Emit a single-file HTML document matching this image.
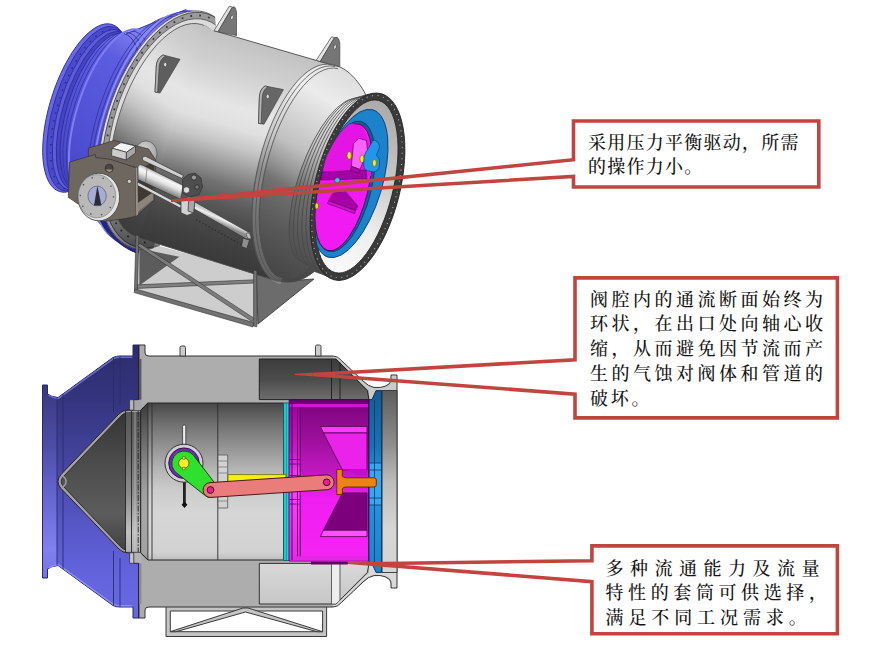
<!DOCTYPE html>
<html lang="zh-CN">
<head>
<meta charset="utf-8">
<title>轴流式调节阀</title>
<style>
html,body{margin:0;padding:0;background:#fff;}
body{width:880px;height:650px;overflow:hidden;position:relative;font-family:"Liberation Serif","Noto Serif CJK SC",serif;}
svg{position:absolute;left:0;top:0;display:block;}
.t{font-family:"Liberation Serif","Noto Serif CJK SC",serif;font-size:18px;fill:#141414;font-weight:500;}
</style>
</head>
<body>
<svg width="880" height="650" viewBox="0 0 880 650">
<defs>

<linearGradient id="bBlue" x1="0" y1="345" x2="0" y2="618" gradientUnits="userSpaceOnUse">
<stop offset="0" stop-color="#2c2c6c"/><stop offset="0.2" stop-color="#34347e"/><stop offset="0.45" stop-color="#4646a2"/><stop offset="0.65" stop-color="#5656c6"/><stop offset="0.85" stop-color="#6464de"/><stop offset="1" stop-color="#6868e0"/></linearGradient>
<linearGradient id="bBlueL" x1="0" y1="385" x2="0" y2="578" gradientUnits="userSpaceOnUse">
<stop offset="0" stop-color="#38387e"/><stop offset="0.3" stop-color="#4c4ca6"/><stop offset="0.6" stop-color="#6868d4"/><stop offset="0.85" stop-color="#8080f0"/><stop offset="1" stop-color="#7474e4"/></linearGradient>
<linearGradient id="bCone" x1="0" y1="403" x2="0" y2="560" gradientUnits="userSpaceOnUse">
<stop offset="0" stop-color="#303030"/><stop offset="0.35" stop-color="#4a4a4a"/><stop offset="0.7" stop-color="#5c5c5c"/><stop offset="1" stop-color="#3c3c3c"/></linearGradient>
<linearGradient id="bCyl" x1="0" y1="403" x2="0" y2="560" gradientUnits="userSpaceOnUse">
<stop offset="0" stop-color="#464646"/><stop offset="0.07" stop-color="#5e5e5e"/><stop offset="0.15" stop-color="#747474"/><stop offset="0.29" stop-color="#969696"/><stop offset="0.42" stop-color="#b4b4b4"/><stop offset="0.55" stop-color="#cbcbcb"/><stop offset="0.7" stop-color="#d6d6d6"/><stop offset="0.95" stop-color="#d2d2d2"/><stop offset="1" stop-color="#bebebe"/></linearGradient>
<linearGradient id="bCav" x1="0" y1="359" x2="0" y2="400" gradientUnits="userSpaceOnUse">
<stop offset="0" stop-color="#3c3c3c"/><stop offset="0.5" stop-color="#4c4c4c"/><stop offset="1" stop-color="#6e6e6e"/></linearGradient>
<linearGradient id="bCav2" x1="0" y1="565" x2="0" y2="605" gradientUnits="userSpaceOnUse">
<stop offset="0" stop-color="#d8d8d8"/><stop offset="1" stop-color="#c6c6c6"/></linearGradient>
<linearGradient id="bMag" x1="0" y1="403" x2="0" y2="561" gradientUnits="userSpaceOnUse">
<stop offset="0" stop-color="#7e047e"/><stop offset="0.25" stop-color="#a010a0"/><stop offset="0.45" stop-color="#c418c4"/><stop offset="0.6" stop-color="#f01ef0"/><stop offset="1" stop-color="#f424f4"/></linearGradient>
<linearGradient id="bMagW" x1="0" y1="403" x2="0" y2="561" gradientUnits="userSpaceOnUse">
<stop offset="0" stop-color="#a000a0"/><stop offset="0.3" stop-color="#c818c8"/><stop offset="0.5" stop-color="#ff40ff"/><stop offset="1" stop-color="#e828e8"/></linearGradient>
<linearGradient id="bSeat" x1="0" y1="390" x2="0" y2="574" gradientUnits="userSpaceOnUse">
<stop offset="0" stop-color="#155a94"/><stop offset="0.3" stop-color="#1a70b4"/><stop offset="0.5" stop-color="#2496e4"/><stop offset="1" stop-color="#1c82cc"/></linearGradient>
<linearGradient id="bFl" x1="0" y1="388" x2="0" y2="576" gradientUnits="userSpaceOnUse">
<stop offset="0" stop-color="#5a5a5a"/><stop offset="0.3" stop-color="#8e8e8e"/><stop offset="0.5" stop-color="#bcbcbc"/><stop offset="0.75" stop-color="#d6d6d6"/><stop offset="1" stop-color="#d4d4d4"/></linearGradient>

<linearGradient id="tBody" x1="214" y1="30.7" x2="151" y2="241.2" gradientUnits="userSpaceOnUse">
<stop offset="0" stop-color="#c2c2c2"/><stop offset="0.063" stop-color="#c9c9c9"/><stop offset="0.133" stop-color="#cfcfcf"/><stop offset="0.22" stop-color="#dadada"/><stop offset="0.307" stop-color="#e6e6e6"/><stop offset="0.395" stop-color="#e0e0e0"/><stop offset="0.48" stop-color="#c6c6c6"/><stop offset="0.57" stop-color="#9c9c9c"/><stop offset="0.656" stop-color="#727272"/><stop offset="0.743" stop-color="#5a5a5a"/><stop offset="0.83" stop-color="#4a4a4a"/><stop offset="0.918" stop-color="#404040"/><stop offset="1" stop-color="#3a3a3a"/></linearGradient>
<linearGradient id="tDome" x1="345" y1="70" x2="283" y2="280" gradientUnits="userSpaceOnUse">
<stop offset="0" stop-color="#dcdcdc"/><stop offset="0.16" stop-color="#ececec"/><stop offset="0.42" stop-color="#c0c0c0"/><stop offset="0.52" stop-color="#989898"/><stop offset="0.6" stop-color="#727272"/><stop offset="0.77" stop-color="#5a5a5a"/><stop offset="0.93" stop-color="#4a4a4a"/><stop offset="1" stop-color="#444"/></linearGradient>
<linearGradient id="tBlue" x1="150" y1="10" x2="90" y2="200" gradientUnits="userSpaceOnUse">
<stop offset="0" stop-color="#6c6ce6"/><stop offset="0.12" stop-color="#8080f0"/><stop offset="0.3" stop-color="#5c5ce0"/><stop offset="0.7" stop-color="#5050d4"/><stop offset="1" stop-color="#4444c0"/></linearGradient>
<linearGradient id="tBore" x1="385" y1="100" x2="345" y2="275" gradientUnits="userSpaceOnUse">
<stop offset="0" stop-color="#a8a8a8"/><stop offset="0.35" stop-color="#c4c4c4"/><stop offset="0.7" stop-color="#eeeeee"/><stop offset="1" stop-color="#fbfbfb"/></linearGradient>
<clipPath id="cBlue"><path d="M186,9.5 C175,13 165,17 147,25 L129,31 L124,33 L121,30 C117,27 110,25 103,25 C97,26 88,32 81,39 C76,45 72,51 69,57 C65,64 62,71 59,79 C56,86 53,94 51,101 C49,108 47,114 46,121 C44,130 42,140 41,152 C41,160 42,165 44.3,169.5 C46,174 48,178 50.8,182.5 C53,186 56,188.5 59.4,190 L68,193.2 L80,215 L100,222 L136,252 L180,200 L200,12 Z"/></clipPath>
<clipPath id="cHole"><ellipse cx="344.8" cy="186.4" rx="26.6" ry="67" transform="rotate(14 344.8 186.4)"/></clipPath>
<clipPath id="cBore"><ellipse cx="356.8" cy="186.5" rx="36.2" ry="88.8" transform="rotate(14.1 356.8 186.5)"/></clipPath>

<linearGradient id="tCyl" x1="163" y1="174" x2="157" y2="187.5" gradientUnits="userSpaceOnUse">
<stop offset="0" stop-color="#b0b0b0"/><stop offset="0.3" stop-color="#f6f6f6"/><stop offset="0.55" stop-color="#e4e4e4"/><stop offset="1" stop-color="#8c8c8c"/></linearGradient>
<linearGradient id="tRod" x1="222" y1="216.5" x2="219" y2="223.5" gradientUnits="userSpaceOnUse">
<stop offset="0" stop-color="#c8c8c8"/><stop offset="0.35" stop-color="#f0f0f0"/><stop offset="1" stop-color="#8a8a8a"/></linearGradient>
<radialGradient id="tBoss" cx="0.4" cy="0.35" r="0.8"><stop offset="0" stop-color="#d4d4d4"/><stop offset="1" stop-color="#9a9a9a"/></radialGradient>

<linearGradient id="bBand" x1="0" y1="410" x2="0" y2="553" gradientUnits="userSpaceOnUse">
<stop offset="0" stop-color="#545454"/><stop offset="0.3" stop-color="#6c6c6c"/><stop offset="0.6" stop-color="#8e8e8e"/><stop offset="0.85" stop-color="#c0c0c0"/><stop offset="1" stop-color="#b0b0b0"/></linearGradient>
<clipPath id="cRing"><path d="M0,0 H214 L216,32 L150,260 H0 Z"/></clipPath>
<clipPath id="cRingO"><ellipse cx="169" cy="130.2" rx="63.7" ry="123.4" transform="rotate(17.2 169 130.2)"/></clipPath>
<linearGradient id="tShade" x1="0" y1="195" x2="0" y2="245" gradientUnits="userSpaceOnUse"><stop offset="0" stop-color="#000" stop-opacity="0"/><stop offset="1" stop-color="#000" stop-opacity="0.5"/></linearGradient>
<!--DEFS-->
</defs>
<rect width="880" height="650" fill="#fff"/>
<g id="top" stroke-linejoin="round">
<!-- base frame back -->
<path d="M137.4,240 L255,272 L300,284 L257,325.3 L135.3,290.6 Z" fill="#cdcdcd"/>
<path d="M139.4,248.6 L139.4,285.5 L179.3,256.8 Z" fill="#5c5c5c"/>
<path d="M256,271 L300,280 L314,279 L258,324 Z" fill="#6c6c6c" stroke="#333" stroke-width="0.8"/>
<!-- blue cone + inlet flange -->
<ellipse cx="85.8" cy="108" rx="35.8" ry="87.6" transform="rotate(17.5 85.8 108)" fill="#6a6ae6" stroke="#3232a4" stroke-width="0.9"/>
<ellipse cx="88.5" cy="108.8" rx="34.6" ry="85.6" transform="rotate(17.5 88.5 108.8)" fill="#4a4ace" stroke="#2c2c94" stroke-width="0.8"/>
<ellipse cx="90.5" cy="109.4" rx="32.6" ry="83.4" transform="rotate(17.5 90.5 109.4)" fill="none" stroke="#2c2c8c" stroke-width="1.5" stroke-dasharray="1.5 6.5"/>
<ellipse cx="93" cy="110" rx="33.6" ry="83.6" transform="rotate(17.5 93 110)" fill="#5c5cdc" stroke="#2c2c94" stroke-width="0.8"/>
<ellipse cx="96.5" cy="111" rx="33.2" ry="82.6" transform="rotate(17.5 96.5 111)" fill="#4444c4" stroke="#2c2c94" stroke-width="0.8"/>
<path d="M124.7,33.8 L186,9.5 L200,12 L180,200 L125.1,246.5 L75.3,190.2 Z" fill="url(#tBlue)"/>
<ellipse cx="100" cy="112" rx="33" ry="82" transform="rotate(17.5 100 112)" fill="url(#tBlue)" stroke="#2c2c94" stroke-width="0.8"/>
<path d="M126,34 L186,9.5" stroke="#3a3aa8" stroke-width="0.9" fill="none"/>
<g fill="none">
<ellipse cx="104" cy="113" rx="34" ry="84" transform="rotate(17.5 104 113)" stroke="#3434a4" stroke-width="0.8"/>
<ellipse cx="109" cy="114.5" rx="35.5" ry="87" transform="rotate(17.5 109 114.5)" stroke="#3434a4" stroke-width="0.8"/>
<ellipse cx="113" cy="115.5" rx="36.5" ry="89.5" transform="rotate(17.5 113 115.5)" stroke="#7e7ef2" stroke-width="2"/>
<ellipse cx="143" cy="124" rx="46.5" ry="111.5" transform="rotate(17.3 143 124)" stroke="#3434a4" stroke-width="0.8"/>
<ellipse cx="148" cy="125.3" rx="48" ry="115" transform="rotate(17.3 148 125.3)" stroke="#3434a4" stroke-width="0.8"/>
<ellipse cx="152" cy="126.5" rx="49.5" ry="118" transform="rotate(17.3 152 126.5)" stroke="#8a8af4" stroke-width="1.8"/>
<ellipse cx="156" cy="127.5" rx="50.6" ry="120.5" transform="rotate(17.3 156 127.5)" stroke="#3434a4" stroke-width="0.8"/>
</g>
<path d="M95,208 C100,226 116,246 138,253.5 L142,240 C126,232 113,222 106,205 Z" fill="#232388" stroke="#1a1a66" stroke-width="0.8"/>
<!-- bolted ring -->
<g clip-path="url(#cRing)">
<ellipse cx="169" cy="130.2" rx="63.7" ry="123.4" transform="rotate(17.2 169 130.2)" fill="#dcdce6" stroke="#555" stroke-width="0.8"/>
<ellipse cx="171.1" cy="130.1" rx="62.9" ry="121.8" transform="rotate(17.2 171.1 130.1)" fill="#9a9a9a" stroke="#444" stroke-width="0.8"/>
<ellipse cx="172" cy="129" rx="61" ry="117.4" transform="rotate(17.2 172 129)" fill="none" stroke="#3a3a3a" stroke-width="1.8" stroke-dasharray="1.8 7.2"/>
<ellipse cx="173" cy="127.6" rx="59.3" ry="112.5" transform="rotate(17.2 173 127.6)" fill="#dcdcdc" stroke="#555" stroke-width="0.8"/>
</g>
<g clip-path="url(#cRingO)"><rect x="90" y="195" width="70" height="65" fill="url(#tShade)"/></g>
<!-- body -->
<ellipse cx="168.9" cy="130.6" rx="52.1" ry="111" transform="rotate(17.2 168.9 130.6)" fill="url(#tBody)" stroke="#555" stroke-width="0.8"/>
<path d="M204,25 L214,30.7 L331.4,64.8 A46.9,111.5 13.9 0 1 277.8,281.2 L139.5,238 Z" fill="url(#tBody)"/>
<path d="M214,30.7 L331.4,64.8 M277.8,281.2 L139.5,238" fill="none" stroke="#4a4a4a" stroke-width="0.9"/>
<!-- dome -->
<path d="M332.3,65 L339,66.5 C347,70 353,76 357,81.2 C361,86 364,91 366,95.2 L376,95 L340,281 L314,271.7 C305,279 296,282.5 286,282 L276.9,281 Z" fill="url(#tDome)"/>
<ellipse cx="304.6" cy="173" rx="46.9" ry="111.5" transform="rotate(13.9 304.6 173)" fill="url(#tDome)"/>
<path d="M332.3,65 L339,66.5 C347,70 353,76 357,81.2 C361,86 364,91 366,95.2 M314,271.7 C305,279 296,282.5 286,282 L276.9,281" fill="none" stroke="#4a4a4a" stroke-width="0.9"/>
<path d="M335.2,66.6 A46.4,110 13.9 0 0 281.2,281.4" fill="none" stroke="#fff" stroke-opacity="0.17" stroke-width="6"/>
<g fill="none" stroke="#505050" stroke-width="0.8">
<path d="M332.3,65 A46.9,111.5 13.9 0 0 276.9,281"/>
<path d="M335.2,66.6 A46.4,110 13.9 0 0 281.2,281.4"/>
<path d="M338,68.6 A45.8,108.5 13.9 0 0 285.2,281.6"/>
</g>
<!-- neck -->
<path d="M358.4,99.3 L376,95 L340,281 L301.2,261.5 Z" fill="url(#tDome)"/>
<ellipse cx="329.8" cy="180.4" rx="31.1" ry="86.0" transform="rotate(19.4 329.8 180.4)" fill="url(#tDome)"/>
<g fill="none" stroke="#484848" stroke-width="0.8">
<path d="M358.4,99.3 A31.1,86.0 19.4 0 0 301.2,261.5"/>
<path d="M363.0,98.1 A33.4,88.0 18.3 0 0 307.7,265.2"/>
<path d="M367.6,97.0 A35.7,90.0 17.3 0 0 314.1,268.9"/>
<path d="M372.1,95.8 A37.9,92.0 16.2 0 0 320.7,272.5"/>
<path d="M376.5,94.7 A40.2,94.0 15.2 0 0 327.4,276.2"/>
</g>
<!-- outlet flange -->
<ellipse cx="357.5" cy="186.7" rx="42.5" ry="96" transform="rotate(14.1 357.5 186.7)" fill="#3a3a3a" stroke="#222" stroke-width="0.8"/>
<ellipse cx="357" cy="186.6" rx="40.3" ry="93.4" transform="rotate(14.1 357 186.6)" fill="none" stroke="#c4c4c4" stroke-width="1" stroke-dasharray="1 4.6"/>
<ellipse cx="356.8" cy="186.5" rx="36.2" ry="88.8" transform="rotate(14.1 356.8 186.5)" fill="url(#tBore)" stroke="#222" stroke-width="0.8"/>
<!-- blue seat ring -->
<g clip-path="url(#cBore)">
<ellipse cx="350.5" cy="183.5" rx="31.4" ry="77" transform="rotate(17 350.5 183.5)" fill="#1c82cc" stroke="#0a3a66" stroke-width="0.8"/>
<ellipse cx="344.8" cy="186.4" rx="26.6" ry="67" transform="rotate(14 344.8 186.4)" fill="#135c98" stroke="#0a3a66" stroke-width="0.8"/>
</g>
<g clip-path="url(#cHole)" stroke="#500050" stroke-width="0.6">
<ellipse cx="343.5" cy="187.4" rx="24.6" ry="65" transform="rotate(13.9 343.5 187.4)" fill="#f21af2" stroke-width="0.8"/>
<path d="M330,140 L345,122 L362,126 L372,150 L371,176 L322,174 Z" fill="#e414e4" stroke="none"/>
<!-- horizontal rib -->
<path d="M322,172 L366,170 L367,178.5 L321,180 Z" fill="#a400a4"/>
<!-- gusset -->
<path d="M333,193.2 L344.9,191 L357.8,206 L355.6,210.5 L328.7,200.8 Z" fill="#a600a6"/>
<path d="M328.7,200.8 L355.6,210.5 L354.5,213.5 L327.5,203.5 Z" fill="#d010d0"/>
<!-- raised ear -->
<path d="M353.5,143.7 L358.9,138.3 L366.4,140.5 L367.5,150 L360,169.5 L351.3,166.3 Z" fill="#fa60fa"/>
<path d="M351.3,166.3 L360,169.5 L359,173 L350.5,170 Z" fill="#b000b0"/>
<!-- blue link -->

<ellipse cx="349.2" cy="155.5" rx="2.2" ry="3.8" fill="#f4ec20" stroke="#5a5a00"/>
<ellipse cx="362" cy="158.8" rx="2.2" ry="3.8" fill="#f4ec20" stroke="#5a5a00"/>
<circle cx="337.3" cy="180.3" r="2.6" fill="#22d4e4" stroke="#0a5a66"/>
<ellipse cx="316.8" cy="206" rx="1.8" ry="3" fill="#e8e020" stroke="#5a5a00"/>
</g>
<g clip-path="url(#cBore)" stroke-width="0.6">
<path d="M372.9,140.5 Q375,139.4 377.2,141.5 Q380.2,144.5 379.3,148 L376.4,155.5 Q379.6,157.5 379.6,161 L379.3,166.3 Q378.5,171.2 373.9,171.9 L367.5,170.8 Q363.6,169.5 363.5,165.5 L364.2,156.6 Q365.5,151.5 368.6,148 Z" fill="#2196ea" stroke="#0a3a66"/>
<ellipse cx="374.4" cy="163" rx="2" ry="3.4" fill="#f4ec20" stroke="#5a5a00" stroke-width="0.6"/>
</g>
<!-- lugs -->
<g stroke="#444" stroke-width="0.7">
<path d="M214,30.7 L229.3,6.1 L232.4,7.2 L218,31.8 Z" fill="#e2e2e2"/>
<path d="M218,31.8 L232.4,7.2 Q234.5,6 235.5,8.2 L236.5,12 L236.5,35.6 Z" fill="#767676"/>
<ellipse cx="232" cy="17.4" rx="1.3" ry="2.2" fill="#e8e8e8" transform="rotate(15 232 17.4)"/>
<path d="M316.2,60.3 L331.6,36.8 L334.5,37.6 L320.2,61.6 Z" fill="#e2e2e2"/>
<path d="M320.2,61.6 L334.5,37.6 Q337.5,36.4 338.7,38.9 L339.8,43 L339.8,66.5 Z" fill="#767676"/>
<ellipse cx="335" cy="47" rx="1.3" ry="2.2" fill="#e8e8e8" transform="rotate(15 335 47)"/>
<path d="M163,55 L180,59.3 L160,93 L155,92 L156.3,66 Q157,58 163,55 Z" fill="#5e5e5e"/>
<path d="M163,55 Q157,58 156.3,66 L155,92 L157.6,92.5 L159.2,66 Q160,59 166,55.8 Z" fill="#b4b4b4"/>
<ellipse cx="165.2" cy="64.6" rx="1.6" ry="2.3" fill="#ddd"/>
<path d="M265,86 L283.4,89.6 L264,124.2 L258.5,123.3 L259.4,97 Q260,89 265,86 Z" fill="#666"/>
<path d="M265,86 Q260,89 259.4,97 L258.5,123.3 L261.2,123.8 L262.2,97 Q263,90 268,86.6 Z" fill="#b4b4b4"/>
<ellipse cx="267.7" cy="96.5" rx="1.6" ry="2.3" fill="#ddd"/>
</g>
<!-- actuator -->
<g stroke="#333" stroke-width="0.7">
<ellipse cx="146" cy="153.5" rx="11" ry="12.6" fill="url(#tBoss)" stroke="#555"/>
<!-- dotted scale under rod -->
<path d="M196,219.5 L241.7,245" stroke="#2e2e2e" stroke-width="1.4" stroke-dasharray="1.4 2.2" fill="none"/>
<!-- long rod -->
<path d="M243,238 L249.5,240 L246.8,248.5 L241.5,246.5 Z" fill="#8e8e8e"/>
<path d="M194,201.5 L249.2,232.6 Q251.3,234.2 250,237 Q248.6,239.8 246,238.8 L192.4,208 Z" fill="url(#tRod)"/>
<ellipse cx="248.6" cy="235.8" rx="1.9" ry="3.3" transform="rotate(-28 248.6 235.8)" fill="#bdbdbd" stroke="#444" stroke-width="0.6"/>
<!-- box back plate & top -->
<path d="M88.4,157 L88.4,148.2 L114,140.5 L148.6,148.9 L155.6,160 L154.2,200 L136.2,216 L135.5,167.5 Z" fill="#6a635b"/>
<path d="M137.5,170 L154.3,161.5 L153.3,199 L137.8,211.5 Z" fill="#3e3933" stroke="none"/>
<path d="M137.8,203 L153.4,192 L153.3,199.5 L137.8,212 Z" fill="#8d857b" stroke="none"/>
<!-- lower thin rod -->
<path d="M137.6,182 L181.5,205.3 L180.5,208.2 L137.6,185.5 Z" fill="#d8d8d8"/>
<!-- upper tie rod -->
<path d="M142.5,157.3 L145,156 L183.5,175.5 L182,178.5 L142.5,160.3 Z" fill="#d0d0d0"/>
<!-- cylinder -->
<path d="M138,166 Q139.5,163.6 142.7,165.2 L183,185.3 L180.8,199.4 L138,179.6 Z" fill="url(#tCyl)"/>
<path d="M147,168.3 L145.5,183" stroke="#666" stroke-width="0.6" fill="none"/>
<!-- front plate -->
<path d="M69.7,162 L95.3,154.4 L95.8,157.5 L109.9,159.2 L135.5,167.5 L136.2,216 L127,218.3 L104,221.5 L68.3,197.3 Z" fill="#6e675f"/>
<path d="M135.5,167.5 L137.3,168.3 L138,214.6 L136.2,216 Z" fill="#9a938a" stroke="none"/>
<circle cx="109.2" cy="168.2" r="4" fill="#4a453f" stroke="#2e2a26"/>
<path d="M106,169.5 A3.4,3.4 0 0 0 112.5,169.5 Z" fill="#9b948b" stroke="none"/>
<circle cx="129.3" cy="181.4" r="2.1" fill="#d2cdc6" stroke="#3a3632"/>
<!-- junction box -->
<path d="M112,148.2 L121,142.6 L135.5,146 L126.5,152.3 Z" fill="#f4f4f4"/>
<path d="M112,148.2 L126.5,152.3 L126.2,160 L111.5,155.8 Z" fill="#cccccc"/>
<path d="M126.5,152.3 L135.5,146 L135.5,153 L126.2,160 Z" fill="#a6a6a6"/>
<!-- head block -->
<path d="M182.5,179.5 L188,174.5 L195,173 L201,178 L202.5,187 L199,194.5 L190,197 L183,193.5 Z" fill="#4e4e4e"/>
<circle cx="194" cy="177.5" r="2.6" fill="#9a9a9a" stroke="#222"/>
<circle cx="186.5" cy="190" r="3.2" fill="#dcdcdc" stroke="#333"/>
<circle cx="197" cy="187" r="2.2" fill="#777" stroke="#222"/>
<path d="M181,200.5 L189,196.5 L195,199 L193.6,213 L187,215.5 L181,212.8 Z" fill="#d2d2d2"/>
<path d="M189,196.5 L195,199 L193.6,213 L188,211 Z" fill="#a8a8a8"/>
<!-- dial -->
<ellipse cx="98.8" cy="197" rx="20.8" ry="23.8" fill="#e2e2e2" stroke="#4a4a4a" stroke-width="0.9"/>
<ellipse cx="96.9" cy="196.2" rx="18.8" ry="21.6" fill="#b9b9b9" stroke="#777" stroke-width="0.6"/>
<ellipse cx="96.9" cy="196.2" rx="16.6" ry="19.2" fill="none" stroke="#555" stroke-width="1.4" stroke-dasharray="1.4 9.8"/>
<ellipse cx="97.1" cy="196" rx="9.2" ry="9.9" fill="#a6acd6" stroke="#5a5a6a" stroke-width="0.7"/>
<path d="M97.4,185.8 L101.4,205.4 L94,205.4 Z" fill="#2c2c34" stroke="none"/>
</g>
<!-- base frame front -->
<g stroke="#333" stroke-width="0.6" fill="#727272">
<path d="M136,235 L138.8,235.8 L137.4,291.2 L134.4,290.4 Z"/>
<path d="M137.4,284.8 L255,279.8 L255,283 L137.4,288.4 Z" fill="#808080"/>
<path d="M137.6,246 L139.8,243.4 L254.2,318.4 L252.2,321.6 Z" fill="#7c7c7c"/>
<path d="M134.8,288.8 L253.8,322.6 L253,327 L134.2,292.6 Z"/>
<path d="M253.6,270 L256.8,270.8 L256.8,326.8 L253.6,326 Z"/>
</g>
</g>
<!--TOPFIG-->
<g id="bot" stroke-linejoin="round">
<!-- base frame -->
<g stroke="#3a3a3a" stroke-width="1" fill="#c4c4c4">
<path d="M166,606 H326.6 V636.5 H166 Z M170.3,611 V631.7 H322.6 V611 Z" fill-rule="evenodd"/>
<path d="M170.3,631.7 L243,608 L248,608 L322.6,631.7 L317,631.7 L245.5,612 L176,631.7 Z"/>
</g>
<!-- blue inlet -->
<path d="M42.5,385 L47.5,385 L47.5,394 Q50,396.5 58,397.5 L113,357.5 Q116,356 120,356 L133,356 L133,345 L139,345 L139,618 L133,618 L133,607 L120,607 Q116,607 113,605.5 L58,565.5 Q50,566.5 47.5,569 L47.5,578 L42.5,578 Z" fill="url(#bBlue)" stroke="#28286a" stroke-width="1"/>
<path d="M43,386 H47 V394.5 Q50,397 57,397.8 V565.2 Q50,566 47,568.5 V577 H43 Z" fill="url(#bBlueL)"/>
<path d="M48.5,395 Q51,397 58,398.6 L113.4,358.6 Q116,357.2 120,357.2 L132.4,357.2" stroke="#6a6ad0" stroke-width="1.5" fill="none"/>
<path d="M48.5,568 Q51,566 58,564.4 L113.4,604.4 Q116,605.8 120,605.8 L132.4,605.8" stroke="#8c8cf6" stroke-width="1.5" fill="none"/>
<path d="M57,397.8 V565.2 M63,394 V569 M113.5,357.5 V412 M113.5,551 V605.5 M120,356 V405 M120,558 V607" stroke="#2a2a70" stroke-width="0.9" fill="none"/>
<!-- body outer -->
<path d="M139,345 H145 V353 Q145,356 149,356 H333 Q337.5,356 341.5,360.5 L363,381 Q368.5,386.5 374,387.4 Q381,388 385,386.3 Q391,384 391,380 V375 H397 V588 H391 V583 Q391,579 385,576.7 Q381,575 374,575.6 Q368.5,576.5 363,582 L341.5,602.5 Q337.5,607 333,607 H149 Q145,607 145,610 V618 H139 Z" fill="#adadad" stroke="#333" stroke-width="1"/>
<!-- lugs on top -->
<path d="M180,356 V347.5 Q180,346 181.5,346 H184 Q185.5,346 185.5,347.5 V356 Z" fill="#ccc" stroke="#333" stroke-width="0.9"/>
<path d="M315.5,356 V346.5 Q315.5,345 317,345 H319.5 Q321,345 321,346.5 V356 Z" fill="#ccc" stroke="#333" stroke-width="0.9"/>
<!-- wall light region right -->
<path d="M333,356.8 Q337.3,356.8 341,361 L362.5,381.6 Q368,387.2 374,388.2 Q381,388.8 385.3,387 Q391.8,384.6 391.8,380 V375.8 H396.2 V390.5 H376 L372,399.5 H369 V390.6 L336,358.3 H333 Z" fill="#cbcbcb"/>
<path d="M333,606.2 Q337.3,606.2 341,602 L362.5,581.4 Q368,575.8 374,574.8 Q381,574.2 385.3,576 Q391.8,578.4 391.8,583 V587.2 H396.2 V572.5 H376 L372,563.5 H369 V572.4 L336,604.7 H333 Z" fill="#dadada"/>
<!-- cavities -->
<path d="M259.3,359 H336 L367.4,390.6 L369,399.6 H259.3 Z" fill="url(#bCav)" stroke="#222" stroke-width="1"/>
<path d="M331.5,359 V399.6 M340,362.5 V399.6" stroke="#222" stroke-width="1"/>
<path d="M259.3,604 H336 L367.4,572.4 L369,563.4 H259.3 Z" fill="url(#bCav2)" stroke="#333" stroke-width="1"/>
<path d="M332,564 H339.5 V600.5 L336,603.5 H332 Z" fill="#ededed"/>
<path d="M331.5,604 V563.4 M340,600.5 V563.4" stroke="#555" stroke-width="0.9"/>
<!-- nose cone -->
<path d="M58,481.5 Q58,478 61,474.5 L119,414 Q122.5,410.2 128,410.2 L140.7,410.2 L147.9,403 V560 L140.7,552.8 L128,552.8 Q122.5,552.8 119,549 L61,488.5 Q58,485 58,481.5 Z" fill="#a2a2a2" stroke="#262626" stroke-width="1"/>
<path d="M61.2,481.5 Q61.2,479 63.2,476.8 L120.4,416.4 Q123.4,412.8 128,412.8 L125.5,412.8 V550.2 L128,550.2 Q123.4,550.2 120.4,546.6 L63.2,486.2 Q61.2,484 61.2,481.5 Z" fill="url(#bCone)" stroke="#1e1e1e" stroke-width="0.8"/>
<path d="M62,476 Q66,477.5 66,481.5 Q66,485.5 62,487" fill="none" stroke="#999" stroke-width="1.6"/>
<rect x="125.5" y="412" width="15.2" height="139" fill="url(#bBand)"/>
<path d="M125.5,411 V552 M131.5,411 V552 M140.7,410.2 V552.8" stroke="#262626" stroke-width="0.9" fill="none"/>
<path d="M138.2,411 V552" stroke="#262626" stroke-width="0.9" stroke-dasharray="6 1.5 1.5 1.5" fill="none"/>
<path d="M135,412 V551" stroke="#ddd" stroke-opacity="0.5" stroke-width="1" fill="none"/>
<!-- small steps -->
<path d="M133.8,399.7 H141.4 V410.2 H133.8 Z" fill="#a6a6a6"/>
<path d="M133.8,563.3 H141.4 V552.8 H133.8 Z" fill="#b4b4b4"/>
<rect x="129.6" y="399.7" width="4.2" height="10.5" fill="#b6b6b6" stroke="#333" stroke-width="0.8"/>
<rect x="129.6" y="552.8" width="4.2" height="10.5" fill="#c4c4c4" stroke="#333" stroke-width="0.8"/>
<rect x="138.8" y="359" width="2.6" height="40.7" fill="#595959"/>
<rect x="138.8" y="563.3" width="2.6" height="40.7" fill="#8a8a8a"/>
<path d="M138.5,345 V399.7 H133.8 M138.5,618 V563.3 H133.8" stroke="#222" stroke-width="0.9" fill="none"/>
<!-- inner cylinder -->
<path d="M140.7,410.2 L147.9,403 H283.6 V560 H147.9 L140.7,552.8 Z" fill="url(#bCyl)" stroke="#262626" stroke-width="1"/>
<path d="M140.7,410.2 L147.9,403 V560 L140.7,552.8 Z" fill="#000" fill-opacity="0.22"/>
<path d="M147.9,403 V560 M152,403 V560 M217.8,403 V560" stroke="#2c2c2c" stroke-width="0.9" fill="none"/>
<!-- flange right -->
<path d="M382,390.5 H397 V572.5 H382 Z" fill="url(#bFl)" stroke="#333" stroke-width="0.9"/>
<!-- seat ring blue -->
<path d="M376,390.6 H381.6 V572.4 H376 L372,563.4 H369 V399.6 H372 Z" fill="url(#bSeat)" stroke="#0a2c4c" stroke-width="0.9"/>
<path d="M370,463 H381 V505 H370 Z" fill="#35a6f2"/>
<path d="M374.5,400 V563 M369,463 H381.6 M369,505 H381.6 M369,470 H381.6 M369,498 H381.6" stroke="#0c3a62" stroke-width="0.8" fill="none"/>
<!-- cyan band -->
<rect x="283.6" y="403" width="5.6" height="157.5" fill="#22cfd2" stroke="#0b5c60" stroke-width="0.9"/>
<path d="M286.4,403 V560.5" stroke="#0f8a8c" stroke-width="0.7"/>
<!-- magenta sleeve -->
<rect x="289.2" y="400" width="79.3" height="161" fill="url(#bMag)" stroke="#400040" stroke-width="0.9"/>
<rect x="289.6" y="400.4" width="78.5" height="3.6" fill="#6a006a"/>
<rect x="289.6" y="404" width="78.5" height="3.2" fill="#d018d0"/>
<rect x="289.6" y="556.2" width="78.5" height="4.4" fill="#e428e4"/>
<rect x="289.6" y="407.2" width="10.6" height="149" fill="url(#bMagW)"/>
<path d="M300.2,407.2 V556.2 M292,404 V560 M297.5,407.2 V556.2" stroke="#500050" stroke-width="0.9" fill="none"/>
<path d="M289.6,459.5 H300.2 M289.6,475.5 H300.2 M289.6,489 H300.2 M289.6,504 H300.2 M289.6,464 H300.2 M289.6,499.5 H300.2" stroke="#600060" stroke-width="0.8" fill="none"/>
<rect x="311" y="561.6" width="36.7" height="2.9" fill="#5a0a52"/>
<!-- ribs -->
<path d="M320.5,426.4 H367 V433 H323.5 Z" fill="#ff38ff" stroke="#500050" stroke-width="0.8"/>
<path d="M323.5,433 H367 V470 H342.5 Z" fill="#ea22ea" stroke="#500050" stroke-width="0.8"/>
<path d="M342.5,470 Q350,470.5 356,475 L367,476 V470 Z" fill="#c010c0"/>
<path d="M320.5,536.6 H367 V530 H323.5 Z" fill="#ff50ff" stroke="#500050" stroke-width="0.8"/>
<path d="M323.5,530 H367 V493 H342.5 Z" fill="#7c007c" stroke="#400040" stroke-width="0.8"/>
<!-- bracket -->
<rect x="218" y="455" width="9.7" height="53" fill="#d2d2d2" stroke="#555" stroke-width="0.8"/>
<path d="M218,461 H227.7 M218,467 H227.7 M218,473 H227.7 M218,495 H227.7 M218,501 H227.7" stroke="#777" stroke-width="0.8"/>
<!-- yellow bar -->
<rect x="228" y="474.6" width="58" height="10" fill="#f6f012" stroke="#6a6a00" stroke-width="0.8"/>
<!-- shaft -->
<rect x="182.6" y="425" width="3.2" height="22" rx="1.4" fill="#eee" stroke="#333" stroke-width="0.8"/>
<rect x="183" y="480" width="2.8" height="24" fill="#222"/>
<path d="M184.5,501.5 L187.4,504.7 L184.5,508 L181.6,504.7 Z" fill="#111"/>
<!-- crank hub -->
<circle cx="184" cy="463.2" r="19" fill="#cfcfcf" stroke="#333" stroke-width="1"/>
<circle cx="184" cy="463.2" r="15.3" fill="#7a22c8" stroke="#2a0a50" stroke-width="0.9"/>
<circle cx="184" cy="463.2" r="12.6" fill="#d8d8d8" stroke="#333" stroke-width="0.8"/>
<!-- green arm -->
<path d="M176.4,472.9 A12.3,12.3 0 1 1 193.8,455.7 L216.5,485.4 A7.6,7.6 0 0 1 205.8,496.0 Z" fill="#2fe02f" stroke="#0a4a0a" stroke-width="1"/>
<circle cx="183.8" cy="463.2" r="5.2" fill="#f4ee30" stroke="#5a5a00" stroke-width="0.9"/>
<rect x="182.6" y="456.6" width="2.4" height="2.6" fill="#f4ee30" stroke="#5a5a00" stroke-width="0.6"/>
<rect x="182.6" y="467.2" width="2.4" height="2.6" fill="#f4ee30" stroke="#5a5a00" stroke-width="0.6"/>
<!-- orange T -->
<path d="M336.8,469.5 H342.3 V476 Q343,477.8 346,477.8 H374 Q376.3,477.8 376.3,480 V484.8 Q376.3,487 374,487 H346 Q343,487 342.3,489 V494.5 H336.8 Z" fill="#ea8414" stroke="#5a2c00" stroke-width="0.9"/>
<!-- salmon rod -->
<path d="M210.1,482.6 L326.2,474.9 A7.4,7.4 0 0 1 327.2,489.7 L210.9,497.4 A7.4,7.4 0 0 1 210.1,482.6 Z" fill="#ea7c7c" stroke="#4a1a1a" stroke-width="1"/>
<circle cx="210.5" cy="490" r="3.4" fill="#f01a90" stroke="#4a0a2a" stroke-width="1"/>
<circle cx="326.7" cy="482.3" r="3.4" fill="#f01a90" stroke="#4a0a2a" stroke-width="1"/>
</g>
<!--BOTFIG-->
<g id="callouts" fill="none" stroke="#c1443e" stroke-width="3.6" stroke-linejoin="miter" stroke-miterlimit="4">
<path d="M573.5,159.7 L573.5,121 L818.8,121 L818.8,187 L573.5,187 L573.5,176.4 L188.5,199.4 Z"/>
<path d="M575,359.7 L575,277.9 L837.4,277.9 L837.4,417.9 L575,417.9 L575,394.1 L312.3,374.5 Z"/>
<path d="M591.9,560.7 L591.9,545.9 L837.4,545.9 L837.4,633.8 L591.9,633.8 L591.9,581.6 L365.6,563.7 Z"/>
<g fill="#c1443e" stroke="none">
<polygon points="188.3,197.7 170.9,199.4 171.2,202.2 188.6,201.1 188.5,199.4"/>
<polygon points="312.2,372.8 294.8,373.7 294.8,375.0 312.2,376.2 312.3,374.5"/>
<polygon points="365.6,562.0 348.1,562.2 348.1,564.1 365.5,565.4 365.6,563.7"/>
</g>
</g>
<g class="t">
<text x="588" y="149" style="letter-spacing:1.25px">采用压力平衡驱动，所需</text>
<text x="588" y="173" style="letter-spacing:1.25px">的操作力小。</text>
<text x="590" y="305.5" style="letter-spacing:3.5px">阀腔内的通流断面始终为</text>
<text x="590" y="330.3" style="letter-spacing:3.5px">环状，在出口处向轴心收</text>
<text x="590" y="355.1" style="letter-spacing:3.5px">缩，从而避免因节流而产</text>
<text x="590" y="379.9" style="letter-spacing:3.5px">生的气蚀对阀体和管道的</text>
<text x="590" y="404.7" style="letter-spacing:2.8px">破坏。</text>
<text x="605.5" y="574.5" style="letter-spacing:6.5px">多种流通能力及流量</text>
<text x="605.5" y="599.1" style="letter-spacing:4.6px">特性的套筒可供选择，</text>
<text x="605.5" y="623.8" style="letter-spacing:4.9px">满足不同工况需求。</text>
</g>
<!--CALLOUTS-->
</svg>
</body>
</html>
